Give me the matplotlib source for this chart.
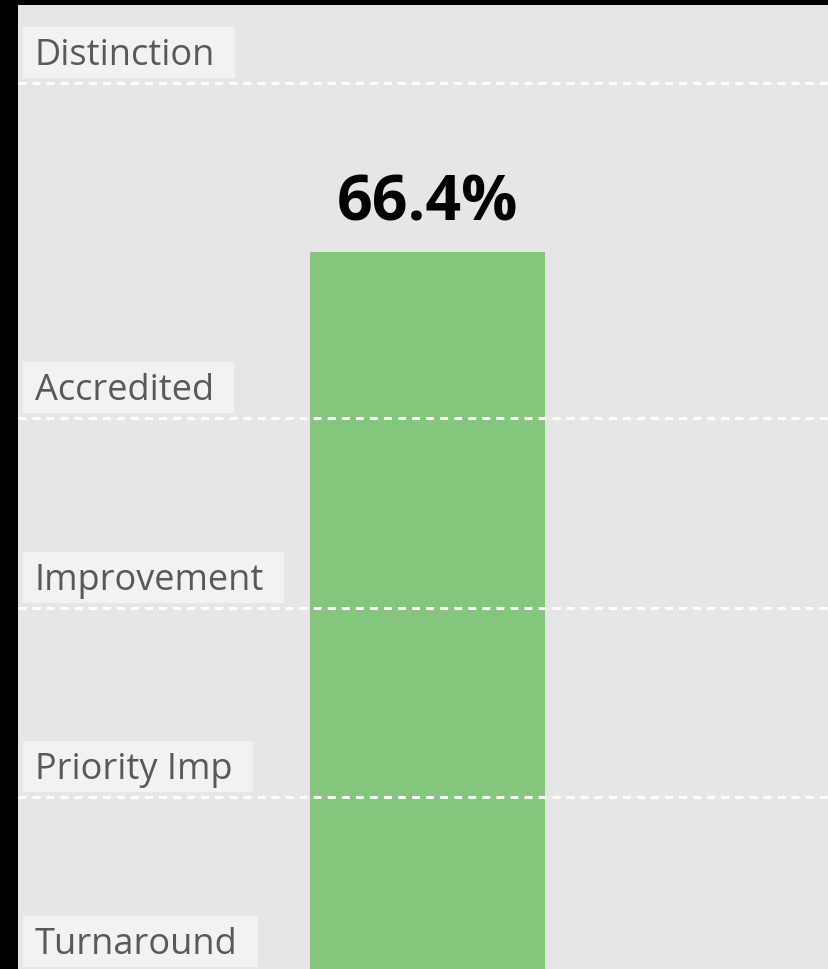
import matplotlib
matplotlib.use('Agg')
import matplotlib.pyplot as plt
from matplotlib.patches import Rectangle
from matplotlib.transforms import IdentityTransform

# bar value and the threshold bands
bar_value = 66.4
bar_label = '66.4%'
band_names = ['Distinction', 'Accredited', 'Improvement', 'Priority Imp', 'Turnaround']
band_values = [78, 55, 42, 29, 17]

W, H = 829, 969
fig = plt.figure(figsize=(W / 100, H / 100), dpi=100)
fig.patch.set_facecolor('black')

ax = fig.add_axes([18 / W, 0, (W - 18) / W, (H - 5) / H])
ax.set_facecolor('#e6e6e6')
for s in ax.spines.values():
    s.set_visible(False)
ax.set_xticks([])
ax.set_yticks([])
ax.set_xlim(-1.7426, 1.7085)
ax.set_ylim(17.19, 83.36)

ax.bar([0], [bar_value], width=1.0, color='#85c67d', zorder=2)
ax.annotate(bar_label, xy=(0, bar_value), xytext=(0, 32), textcoords='offset pixels',
            ha='center', va='baseline', fontsize=45, fontweight='bold',
            family='Open Sans', color='black', zorder=5)

labels = []
for name, val in zip(band_names, band_values):
    ax.axhline(val, color='white', lw=2.2, dashes=(2.6, 2.0), zorder=3)
    t = ax.annotate(name, xy=(0, val), xycoords=('axes fraction', 'data'),
                    xytext=(17, 18), textcoords='offset pixels',
                    ha='left', va='baseline', fontsize=26, family='Open Sans',
                    color='#595959', zorder=5)
    labels.append((t, val))

# light boxes behind the band names (padding a bit wider on the right)
fig.canvas.draw()
r = fig.canvas.get_renderer()
for t, val in labels:
    bb = t.get_window_extent(r)
    y_line = ax.transData.transform((0, val))[1]
    ax.add_patch(Rectangle((bb.x0 - 12, y_line + 5), bb.width + 32, 51,
                           transform=IdentityTransform(), fc='#f2f2f2', ec='none',
                           zorder=4, clip_on=False))

fig.savefig('out.png', dpi=100, facecolor=fig.get_facecolor())
